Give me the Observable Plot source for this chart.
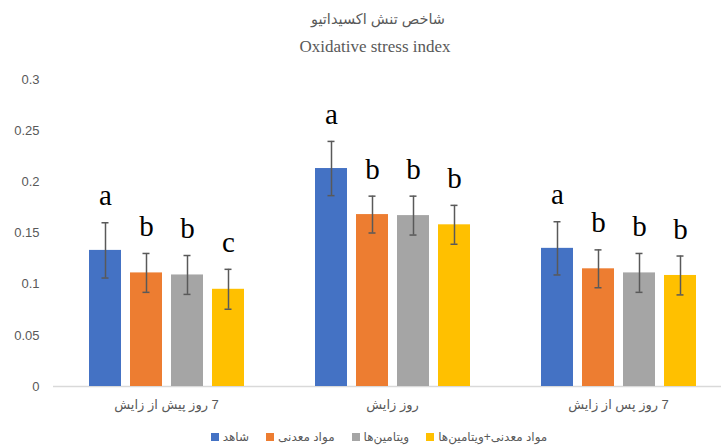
<!DOCTYPE html>
<html><head><meta charset="utf-8">
<script src="https://cdn.jsdelivr.net/npm/d3@7"></script>
<script src="https://cdn.jsdelivr.net/npm/@observablehq/plot@0.6"></script>
<style>
body{margin:0;background:#fff;width:721px;height:446px;overflow:hidden;font-family:"Liberation Sans","DejaVu Sans",sans-serif;}
#title{height:60px;position:relative;}
.t1{position:absolute;left:0;width:756px;top:11px;text-align:center;font-size:14.5px;color:#595959;direction:rtl;}
.t2{position:absolute;left:0;width:750px;top:37px;text-align:center;font-size:17px;color:#595959;font-family:"Liberation Serif",serif;}
#chart{height:360px;}
#legend{position:absolute;left:0;top:430px;width:758px;display:flex;justify-content:center;gap:17px;font-size:12px;color:#595959;}
.item{display:flex;align-items:center;gap:4px;}
.sw{width:8px;height:8px;display:inline-block;}
</style></head>
<body>
<div id="title"><div class="t1">شاخص تنش اکسیداتیو</div><div class="t2">Oxidative stress index</div></div>
<div id="chart"></div>
<div id="legend"></div>
<script>
const groups = ["7 روز پیش از زایش", "روز زایش", "7 روز پس از زایش"];
const series = ["شاهد", "مواد معدنی", "ویتامین‌ها", "مواد معدنی+ویتامین‌ها"];
const colors = ["#4472C4", "#ED7D31", "#A5A5A5", "#FFC000"];
const control = [0.133, 0.213, 0.135];
const minerals = [0.111, 0.168, 0.115];
const vitamins = [0.109, 0.167, 0.111];
const combined = [0.095, 0.158, 0.1085];
const controlErr = [0.027, 0.0265, 0.026];
const mineralsErr = [0.019, 0.018, 0.0185];
const vitaminsErr = [0.019, 0.019, 0.019];
const combinedErr = [0.0195, 0.019, 0.019];
const controlLetters = ["a", "a", "a"];
const mineralsLetters = ["b", "b", "b"];
const vitaminsLetters = ["b", "b", "b"];
const combinedLetters = ["c", "b", "b"];
const yTicks = [0, 0.05, 0.1, 0.15, 0.2, 0.25, 0.3];

const vals = [control, minerals, vitamins, combined];
const errs = [controlErr, mineralsErr, vitaminsErr, combinedErr];
const lets = [controlLetters, mineralsLetters, vitaminsLetters, combinedLetters];
const rows = [];
groups.forEach((g, gi) => series.forEach((s, si) => rows.push({
  group: g, series: s, value: vals[si][gi], err: errs[si][gi], letter: lets[si][gi]
})));
const lo = d => d.value - d.err, hi = d => d.value + d.err;

const chart = Plot.plot({
  width: 721, height: 360,
  marginTop: 19, marginBottom: 34, marginLeft: 52, marginRight: 0,
  style: {fontFamily: '"Liberation Sans","DejaVu Sans",sans-serif', color: "#595959", background: "transparent"},
  fx: {domain: groups, range: [52.4, 730.8], paddingInner: 0, paddingOuter: 0},
  x: {domain: series, paddingInner: 0.225, paddingOuter: 0, insetLeft: 35.6, insetRight: 35.6, axis: null},
  y: {domain: [0, 0.3]},
  color: {domain: series, range: colors},
  marks: [
    Plot.axisY({ticks: yTicks, tickFormat: d => String(+d.toFixed(2)), tickSize: 0, tickPadding: 14, fontSize: 13, label: null}),
    Plot.axisFx({anchor: "bottom", tickSize: 0, tickPadding: 13, fontSize: 13, label: null, tickFormat: d => "\u200F" + d}),
    Plot.ruleY([0], {stroke: "#d9d9d9", strokeWidth: 1.5}),
    Plot.barY(rows, {fx: "group", x: "series", y: "value", fill: "series"}),
    Plot.ruleX(rows, {fx: "group", x: "series", y1: lo, y2: hi, stroke: "#595959", strokeWidth: 1.5}),
    Plot.tickY(rows, {fx: "group", x: "series", y: lo, stroke: "#595959", strokeWidth: 1.5, insetLeft: 12.5, insetRight: 12.5}),
    Plot.tickY(rows, {fx: "group", x: "series", y: hi, stroke: "#595959", strokeWidth: 1.5, insetLeft: 12.5, insetRight: 12.5}),
    Plot.text(rows, {fx: "group", x: "series", y: hi, text: "letter", dy: -17.5, lineAnchor: "bottom", fontFamily: '"Liberation Serif",serif', fontSize: 29, fill: "black"})
  ]
});
document.getElementById("chart").appendChild(chart);

const legend = document.getElementById("legend");
series.forEach((s, i) => {
  const it = document.createElement("div");
  it.className = "item";
  const sw = document.createElement("span");
  sw.className = "sw"; sw.style.background = colors[i];
  const tx = document.createElement("span");
  tx.dir = "rtl"; tx.textContent = s;
  it.appendChild(sw); it.appendChild(tx);
  legend.appendChild(it);
});
</script>
</body></html>
